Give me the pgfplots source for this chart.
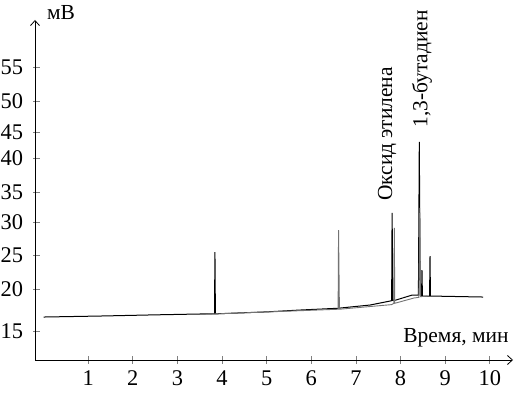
\documentclass[border=0pt]{standalone}
\usepackage{fontspec}
\setmainfont{Liberation Serif}
\usepackage{pgfplots}
\pgfplotsset{compat=1.18}
\usetikzlibrary{arrows.meta}
\begin{document}
\fontsize{21.5}{24}\selectfont
\begin{tikzpicture}
\useasboundingbox (0,0) rectangle (529bp,405bp);
\begin{axis}[
  at={(35bp,45bp)}, anchor=south west,
  scale only axis, width=478bp, height=340bp,
  xmin=-0.193, xmax=10.52, ymin=10.61, ymax=62.12,
  axis lines=left,
  axis line style={line width=0.8bp, -{Straight Barb[length=5bp,width=9bp]}},
  xtick={1,...,10},
  ytick={15,21.36,26.52,31.52,36.06,41.21,45.15,49.85,55},
  yticklabels={15,20,25,30,35,40,45,50,55},
  tick align=center,
  major tick length=7bp,
  ytick style={line width=0.8bp, xshift=1.5bp},
  xtick style={line width=0.8bp},
  /pgf/number format/assume math mode=true,
  ticklabel style={font=\fontsize{22.5}{24}\selectfont},
  yticklabel style={xshift=-1bp},
  clip=false,
]
\addplot[black, line width=1.0bp] coordinates {
 (0.0,17.12) (1.26,17.27) (2.5,17.45) (3.51,17.58) (3.83,17.58)
 (3.84,26.97) (3.85,17.60) (5.0,17.90) (5.75,18.18) (6.6,18.45)
 (7.32,18.94) (7.77,19.55) (7.80,19.60) (7.81,32.88) (7.83,19.65)
 (7.90,19.70) (8.26,20.45) (8.40,20.45) (8.42,43.64) (8.44,20.40)
 (8.47,20.30) (8.48,24.24) (8.49,20.30) (8.65,20.30) (8.66,26.36)
 (8.67,20.30) (9.85,20.15)
};
\addplot[black!55, line width=0.9bp] coordinates {
 (3.5,17.50) (6.6,18.30) (6.61,30.30) (6.63,18.30) (7.8,19.00)
 (7.85,19.20) (7.86,30.61) (7.87,19.20) (8.3,20.00) (8.41,20.10)
 (8.43,33.64) (8.45,20.20) (8.6,20.30)
};
\end{axis}
\node at (61bp,392bp) {мВ};
\node at (456bp,67bp) {Время, мин};
\node[rotate=90] at (387bp,271bp) {Оксид этилена};
\node[rotate=90] at (422bp,336bp) {1,3-бутадиен};
\end{tikzpicture}
\end{document}
